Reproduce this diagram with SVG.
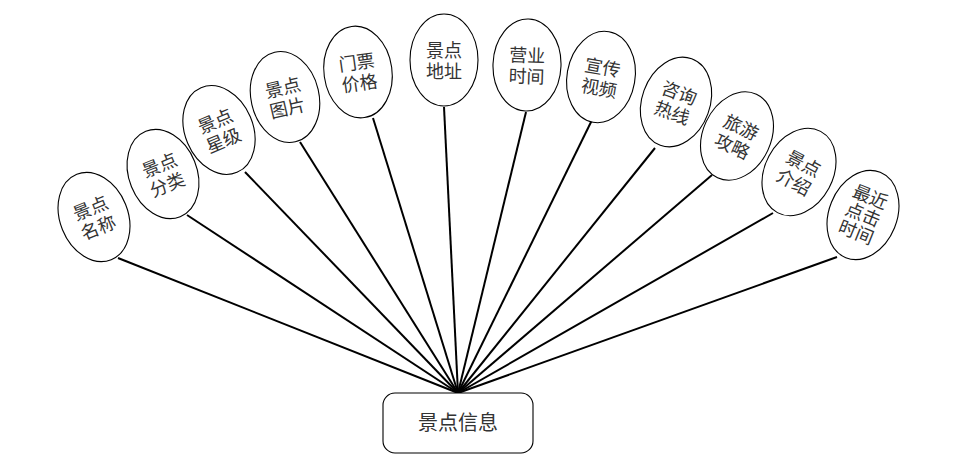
<svg xmlns="http://www.w3.org/2000/svg" width="974" height="461" viewBox="0 0 974 461">
<style>
.n ellipse{fill:#fff;stroke:#000;stroke-width:1.1}
.n text,.root text{font-family:"Noto Sans CJK SC","Noto Sans",sans-serif;font-size:18px;fill:#333;text-anchor:middle}
.root rect{fill:#fff;stroke:#000;stroke-width:1.1}
.c line{stroke:#000;stroke-width:2}
</style>
<rect width="974" height="461" fill="#fff"/>
<g id="connectors" class="c">
<line x1="458" y1="393" x2="118" y2="258"/>
<line x1="458" y1="393" x2="187" y2="215"/>
<line x1="458" y1="393" x2="245" y2="172"/>
<line x1="458" y1="393" x2="300" y2="142"/>
<line x1="458" y1="393" x2="373" y2="118"/>
<line x1="458" y1="393" x2="444" y2="107"/>
<line x1="458" y1="393" x2="526" y2="112"/>
<line x1="458" y1="393" x2="592" y2="120"/>
<line x1="458" y1="393" x2="655" y2="148"/>
<line x1="458" y1="393" x2="712" y2="175"/>
<line x1="458" y1="393" x2="773" y2="213"/>
<line x1="458" y1="393" x2="837" y2="257"/>
</g>
<g id="n1" class="n" transform="translate(94,217) rotate(-22)"><ellipse rx="34" ry="46"/><text y="-3">景点</text><text y="18">名称</text></g>
<g id="n2" class="n" transform="translate(163,174) rotate(-22)"><ellipse rx="34" ry="46"/><text y="-3">景点</text><text y="18">分类</text></g>
<g id="n3" class="n" transform="translate(219,130) rotate(-23)"><ellipse rx="34" ry="46"/><text y="-3">景点</text><text y="18">星级</text></g>
<g id="n4" class="n" transform="translate(285,97) rotate(-13)"><ellipse rx="34" ry="46"/><text y="-3">景点</text><text y="18">图片</text></g>
<g id="n5" class="n" transform="translate(358,72) rotate(-8)"><ellipse rx="34" ry="46"/><text y="-3">门票</text><text y="18">价格</text></g>
<g id="n6" class="n" transform="translate(444,60)"><ellipse rx="34" ry="46"/><text y="-3">景点</text><text y="18">地址</text></g>
<g id="n7" class="n" transform="translate(527,65) rotate(2)"><ellipse rx="34" ry="46"/><text y="-3">营业</text><text y="18">时间</text></g>
<g id="n8" class="n" transform="translate(601,77) rotate(10)"><ellipse rx="34" ry="46"/><text y="-3">宣传</text><text y="18">视频</text></g>
<g id="n9" class="n" transform="translate(676,102) rotate(20)"><ellipse rx="34" ry="46"/><text y="-3">咨询</text><text y="18">热线</text></g>
<g id="n10" class="n" transform="translate(737,136) rotate(25)"><ellipse rx="34" ry="46"/><text y="-3">旅游</text><text y="18">攻略</text></g>
<g id="n11" class="n" transform="translate(799,172) rotate(28)"><ellipse rx="34" ry="46"/><text y="-3">景点</text><text y="18">介绍</text></g>
<g id="n12" class="n" transform="translate(863,215) rotate(22)"><ellipse rx="34" ry="46"/><text y="-13">最近</text><text y="6">点击</text><text y="25">时间</text></g>
<g id="root" class="root"><rect x="383" y="393" width="150" height="60" rx="12"/><text x="458" y="430" style="font-size:20px">景点信息</text></g>
</svg>
